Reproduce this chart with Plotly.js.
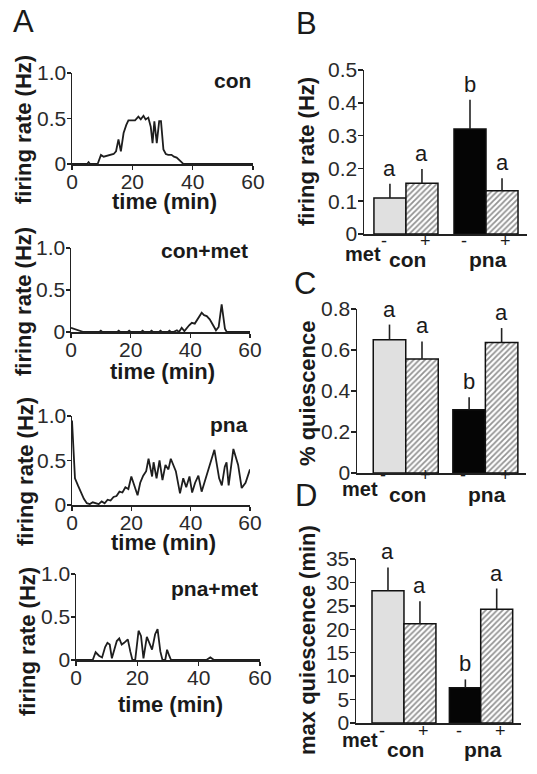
<!DOCTYPE html>
<html><head><meta charset="utf-8">
<script src="https://cdn.plot.ly/plotly-3.0.1.min.js"></script>
<style>html,body{margin:0;padding:0;background:#fff}#chart{width:537px;height:774px}</style>
</head><body><div id="chart"></div>
<script>
// ---------- data ----------
const timeCon = [0,5,5.5,6,8.5,9.6,10.5,11.6,12.7,13.8,14.6,15.4,16.2,17.1,18.0,18.7,19.8,20.9,22.0,22.8,23.7,24.4,25.3,26.1,26.7,27.3,28.1,28.9,29.5,30.3,31.1,31.9,33.0,33.8,34.7,35.5,36.3,36.9,60];
const rateCon = [0,0,0.02,0,0,0.1,0.08,0.09,0.1,0.11,0.14,0.27,0.14,0.34,0.43,0.48,0.48,0.48,0.52,0.49,0.53,0.49,0.51,0.41,0.23,0.47,0.23,0.47,0.47,0.16,0.11,0.1,0.1,0.08,0.07,0.05,0.02,0,0];

const timeConMet = [0,0.9,2.2,3.7,4.2,9.5,10,10.5,15.5,16,16.5,19,19.5,20,23.5,24,24.5,26.5,27,27.5,29.5,30,30.5,32.5,33,33.5,34.3,35.5,36.2,37.1,38,39.6,40.5,41.5,42.5,43.8,44.6,45.5,46.5,47.5,48.6,49.5,50.5,51.6,52.2,60];
const rateConMet = [0.05,0.04,0.03,0.01,0,0,0.015,0,0,0.015,0,0,0.015,0,0,0.015,0,0,0.015,0,0,0.015,0,0,0.015,0,0,0.02,0,0.05,0.01,0.08,0.11,0.1,0.15,0.23,0.2,0.19,0.15,0.08,0.02,0.06,0.33,0.04,0,0];

const timePna = [0,1,2,3,4,5,6,7,8,9,10,11,12,13,14,15,16,17,18,19,20,21,22.1,23,24,25,25.8,27,27.5,28.5,29.5,30.5,31.5,32.5,33.3,35,36.4,37.5,38.5,39.6,40.5,41.5,42.6,43.7,45,46.5,48,49.6,50.5,51.5,52.1,52.8,54.4,56,57.2,58.5,60];
const ratePna = [0.95,0.3,0.22,0.15,0.07,0.02,0.01,0.03,0.02,0.01,0.04,0.02,0.06,0.05,0.09,0.1,0.15,0.14,0.2,0.18,0.32,0.22,0.11,0.25,0.33,0.38,0.52,0.32,0.48,0.3,0.5,0.28,0.45,0.4,0.52,0.38,0.13,0.3,0.2,0.32,0.14,0.25,0.33,0.15,0.3,0.45,0.62,0.3,0.22,0.43,0.48,0.22,0.63,0.45,0.19,0.25,0.4];

const timePnaMet = [0,5.45,6.4,7.5,8.5,9.5,10.25,11,11.7,13.3,14.1,14.9,15.7,16.4,16.9,17.7,18.4,19.3,20.4,21.2,22,23.1,23.9,24.8,25.8,26.6,27.5,28.2,29.1,29.7,30.4,31,42.5,43.8,45,60];
const ratePnaMet = [0,0,0.09,0.05,0.03,0.15,0.2,0.18,0.02,0.22,0.25,0.18,0.2,0.22,0.24,0.1,0,0,0.34,0.28,0.02,0.27,0.2,0.12,0.3,0.36,0.1,0,0,0.12,0.05,0,0,0.03,0,0];

const traceNames = ['con','con+met','pna','pna+met'];

const groups = ['con','pna'];
const metSigns = ['-','+','-','+'];

const firingMean = [0.11,0.155,0.32,0.132];
const firingErr  = [0.043,0.043,0.089,0.038];
const firingLetters = ['a','a','b','a'];

const quiesMean = [0.65,0.556,0.309,0.637];
const quiesErr  = [0.074,0.086,0.06,0.07];
const quiesLetters = ['a','a','b','a'];

const maxQMean = [28.2,21.2,7.5,24.3];
const maxQErr  = [5.0,4.8,1.8,4.4];
const maxQLetters = ['a','a','b','a'];

// ---------- layout helpers ----------
const W = 537, H = 774;
const px = v => v / W;
const py = v => 1 - v / H;
const FONT = 'Liberation Sans, Arial, sans-serif';
const INK = '#1a1a1a';
const TICK = {family: FONT, size: 21, color: '#2a2a2a'};

const data = [];
const layout = {
  width: W, height: H, autosize: false,
  margin: {l:0, r:0, t:0, b:0},
  paper_bgcolor: '#fff', plot_bgcolor: 'rgba(0,0,0,0)',
  showlegend: false,
  font: {family: FONT, color: INK, size: 20},
  annotations: []
};
const ann = a => layout.annotations.push(Object.assign({showarrow:false}, a));

// line panels: pixel frames
const linePanels = [
  {t: timeCon,    r: rateCon,    x0:72, x1:253, yTop:73,  yBot:164, ttlX:23, ttlY:130, nameY:81,  xtY:202},
  {t: timeConMet, r: rateConMet, x0:71, x1:250, yTop:248, yBot:332, ttlX:23, ttlY:302, nameY:250, xtY:371},
  {t: timePna,    r: ratePna,    x0:72, x1:250, yTop:416, yBot:505, ttlX:25, ttlY:472, nameY:424, xtY:542},
  {t: timePnaMet, r: ratePnaMet, x0:76, x1:260, yTop:574, yBot:660, ttlX:27, ttlY:642, nameY:588, xtY:704}
];

linePanels.forEach((p, i) => {
  const n = i + 1;
  const xa = n === 1 ? 'x' : 'x' + n;
  const ya = n === 1 ? 'y' : 'y' + n;
  data.push({type:'scatter', mode:'lines', x:p.t, y:p.r, xaxis:xa, yaxis:ya,
    line:{color:'#1e1e1e', width:1.8, shape:'linear'}, hoverinfo:'skip', name:traceNames[i]});
  layout[n === 1 ? 'xaxis' : 'xaxis' + n] = {
    domain:[px(p.x0), px(p.x1)], anchor: ya, range:[0,60], tickvals:[0,20,40,60],
    showline:true, linecolor:'#222', linewidth:1.5, ticks:'outside', ticklen:4, tickwidth:1.5, tickcolor:'#222',
    ticklabelstandoff:-6, showgrid:false, zeroline:false, tickfont:TICK, fixedrange:true
  };
  layout[n === 1 ? 'yaxis' : 'yaxis' + n] = {
    domain:[py(p.yBot), py(p.yTop)], anchor: xa, range:[0,1], tickvals:[0,0.5,1], ticktext:['0','0.5','1.0'],
    showline:true, linecolor:'#222', linewidth:1.5, ticks:'outside', ticklen:4, tickwidth:1.5, tickcolor:'#222',
    ticklabelstandoff:-4, showgrid:false, zeroline:false, tickfont:TICK, fixedrange:true
  };
  ann({text:'<b>firing rate (Hz)</b>', textangle:-90, xref:'paper', yref:'paper', x:px(p.ttlX), y:py(p.ttlY),
       xanchor:'center', yanchor:'middle', font:{family:FONT, size:22, color:INK}});
  ann({text:'<b>time (min)</b>', xref:'paper', yref:'paper', x:px((p.x0+p.x1)/2 + 2), y:py(p.xtY),
       xanchor:'center', yanchor:'middle', font:{family:FONT, size:22, color:INK}});
  ann({text:'<b>' + traceNames[i] + '</b>', xref:'paper', yref:'paper', x:px(p.x1), y:py(p.nameY),
       xanchor:'right', yanchor:'middle', font:{family:FONT, size:21, color:INK}});
});

// bar panels
const barColors = ['#e0e0e0','#ffffff','#050505','#ffffff'];
const barHatch  = [false, true, false, true];
const barPanels = [
  {mean:firingMean, err:firingErr, letters:firingLetters, title:'firing rate (Hz)', pos:[0,1,2.5,3.5], xr:[-0.81,4.28],
   x0:364, x1:527, yTop:70, yBot:234, yr:[0,0.5], dtick:0.1, ttlY:152, metX:363, metY:254, signY:241, grpY:259},
  {mean:quiesMean, err:quiesErr, letters:quiesLetters, title:'% quiescence', pos:[0,1,2.45,3.45], xr:[-1.0,4.2],
   x0:357, x1:526, yTop:309, yBot:473, yr:[0,0.8], dtick:0.2, ttlY:393, metX:360, metY:489, signY:475, grpY:494},
  {mean:maxQMean, err:maxQErr, letters:maxQLetters, title:'max quiescence (min)', pos:[0,1,2.42,3.4], xr:[-1.0,4.16],
   x0:356, x1:521, yTop:559, yBot:723, yr:[0,35], dtick:5, ttlY:640, metX:360, metY:740, signY:731, grpY:749}
];

barPanels.forEach((p, j) => {
  const n = j + 5;
  const xa = 'x' + n, ya = 'y' + n;
  p.mean.forEach((m, k) => {
    const marker = {color: barColors[k], line:{color:'#111', width:1.5}};
    if (barHatch[k]) marker.pattern = {shape:'/', fgcolor:'#262626', bgcolor:'#ffffff', size:4, solidity:0.45, fillmode:'overlay'};
    data.push({type:'bar', x:[p.pos[k]], y:[m], xaxis:xa, yaxis:ya, width:1, hoverinfo:'skip',
      name: groups[k >> 1] + ' met' + metSigns[k], marker,
      error_y:{type:'data', symmetric:false, array:[p.err[k]], arrayminus:[0], width:0, thickness:1.6, color:'#222'}});
  });
  layout['xaxis' + n] = {domain:[px(p.x0), px(p.x1)], anchor:ya, range:p.xr, showline:true, linecolor:'#222', linewidth:1.5,
    ticks:'', showticklabels:false, showgrid:false, zeroline:false, fixedrange:true};
  layout['yaxis' + n] = {domain:[py(p.yBot), py(p.yTop)], anchor:xa, range:p.yr, dtick:p.dtick, tick0:0,
    showline:true, linecolor:'#222', linewidth:1.5, ticks:'outside', ticklen:5, tickwidth:1.5, tickcolor:'#222',
    ticklabelstandoff:-4, showgrid:false, zeroline:false, tickfont:TICK, fixedrange:true};
  ann({text:'<b>' + p.title + '</b>', textangle:-90, xref:'paper', yref:'paper', x:px(307), y:py(p.ttlY),
       xanchor:'center', yanchor:'middle', font:{family:FONT, size:22, color:INK}});
  p.letters.forEach((L, k) => ann({text:L, xref:xa, yref:ya, x:p.pos[k], y:p.mean[k] + p.err[k],
       xanchor:'center', yanchor:'bottom', yshift:1, font:{family:FONT, size:22, color:INK}}));
  metSigns.forEach((s, k) => ann({text:s, xref:xa, yref:'paper', x:p.pos[k] + (k % 2 ? 0.12 : -0.2), y:py(p.signY),
       xanchor:'center', yanchor:'middle', font:{family:FONT, size:18, color:INK}}));
  groups.forEach((g, k) => ann({text:'<b>' + g + '</b>', xref:xa, yref:'paper', x:(p.pos[2*k] + p.pos[2*k+1]) / 2 + 0.05, y:py(p.grpY),
       xanchor:'center', yanchor:'middle', font:{family:FONT, size:21, color:INK}}));
  ann({text:'<b>met</b>', xref:'paper', yref:'paper', x:px(p.metX), y:py(p.metY),
       xanchor:'center', yanchor:'middle', font:{family:FONT, size:20, color:INK}});
});

// panel letters
[['A',23,22],['B',306,23],['C',305,283],['D',306,496]].forEach(([t,x,y]) =>
  ann({text:t, xref:'paper', yref:'paper', x:px(x), y:py(y), xanchor:'center', yanchor:'middle',
       font:{family:FONT, size:31, color:INK}}));

Plotly.newPlot('chart', data, layout, {staticPlot:true, displayModeBar:false});
</script>
</body></html>
